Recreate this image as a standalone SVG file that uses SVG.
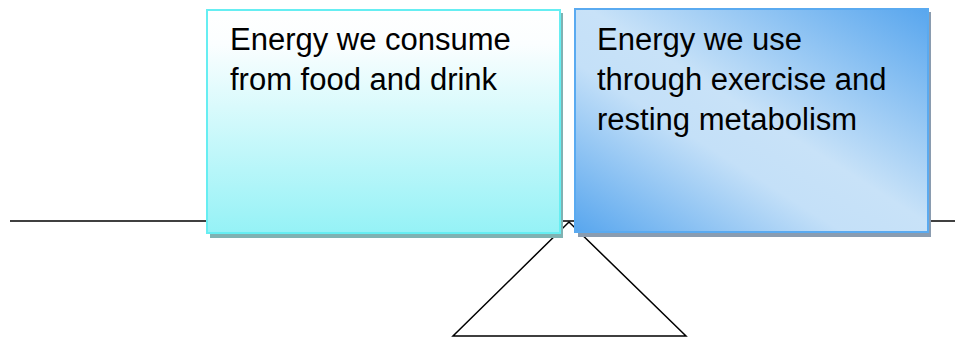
<svg xmlns="http://www.w3.org/2000/svg" width="957" height="338" viewBox="0 0 957 338">
<defs>
<linearGradient id="gLeft" x1="0" y1="0" x2="0" y2="1">
<stop offset="0" stop-color="#ffffff"/>
<stop offset="0.15" stop-color="#fbfeff"/>
<stop offset="1" stop-color="#95f2f6"/>
</linearGradient>
<linearGradient id="gRight" x1="1" y1="0" x2="0" y2="1">
<stop offset="0" stop-color="#58a6ee"/>
<stop offset="0.48" stop-color="#c8e2f8"/>
<stop offset="0.62" stop-color="#c4e0f8"/>
<stop offset="1" stop-color="#58a6ee"/>
</linearGradient>
<style>
.txt{font-family:"Liberation Sans",Arial,sans-serif;font-size:31px;fill:#000}
.ln{stroke:#000;stroke-width:1.5;fill:none}
</style>
</defs>
<g id="scale">
<line class="ln" x1="10" y1="221" x2="955" y2="221"/>
<polygon class="ln" points="569,222 453,336 686,336" fill="#fff"/>
</g>
<g id="connectors"></g>
<g id="node-consume">
<rect x="210" y="13" width="353" height="225" fill="#80b2b2"/>
<rect x="207" y="10" width="353" height="223" fill="url(#gLeft)" stroke="#66eef2" stroke-width="2"/>
<text class="txt" x="230" y="50">Energy we consume</text>
<text class="txt" x="230" y="90">from food and drink</text>
</g>
<g id="node-use">
<rect x="578" y="12" width="353" height="225" fill="#8a9cb0"/>
<rect x="575" y="9" width="353" height="223" fill="url(#gRight)" stroke="#5aaaf0" stroke-width="2"/>
<text class="txt" x="597" y="50">Energy we use</text>
<text class="txt" x="597" y="90">through exercise and</text>
<text class="txt" x="597" y="130">resting metabolism</text>
</g>
</svg>
